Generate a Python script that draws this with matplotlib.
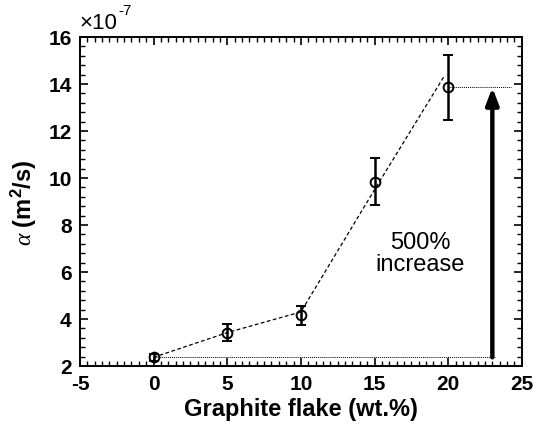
import matplotlib
matplotlib.use("Agg")
import matplotlib.pyplot as plt
from matplotlib.ticker import MultipleLocator

plt.rcParams['font.family'] = ['Liberation Sans', 'DejaVu Sans']
plt.rcParams['axes.unicode_minus'] = False
plt.rcParams['mathtext.fontset'] = 'custom'
plt.rcParams['mathtext.rm'] = 'Liberation Sans'
plt.rcParams['mathtext.it'] = 'Liberation Serif:italic'
plt.rcParams['mathtext.bf'] = 'Liberation Sans:bold'

graphite = [0, 5, 10, 15, 20]
alpha = [2.37, 3.42, 4.15, 9.84, 13.85]          # in units of 1e-7 m^2/s
alpha_err = [0.15, 0.36, 0.42, 1.0, 1.38]
trend_x = [0, 5, 10, 15, 19.7]
trend_y = [2.37, 3.42, 4.3, 9.5, 14.3]
base_line_x = [0, 23.2]
top_line_x = [20, 24.3]
arrow_x = 23.0
annot_text = "500%\nincrease"
xticks = [-5, 0, 5, 10, 15, 20, 25]
yticks = [2, 4, 6, 8, 10, 12, 14, 16]

fig = plt.figure(figsize=(5.33, 4.31), dpi=100)
ax = fig.add_axes([0.150, 0.1485, 0.829, 0.7635])

ax.plot(trend_x, trend_y, ls=(0, (3, 2)), color='black', lw=0.9)
ax.errorbar(graphite, alpha, yerr=alpha_err,
            fmt='o', mfc='none', mec='black', ms=7, mew=1.4, ecolor='black',
            elinewidth=1.8, capsize=3.5, capthick=1.8, zorder=3)

ax.plot(base_line_x, [alpha[0]] * 2, ls=(0, (1, 1)), color='black', lw=0.7)
ax.plot(top_line_x, [alpha[-1]] * 2, ls=(0, (1, 1)), color='black', lw=0.7)
ax.annotate('', xy=(arrow_x, alpha[-1]), xytext=(arrow_x, alpha[0]),
            arrowprops=dict(arrowstyle='-|>,head_width=0.38,head_length=1.0',
                            lw=3.2, color='black', shrinkA=0, shrinkB=0))
ax.text(18.1, 6.8, annot_text, ha='center', va='center', fontsize=17,
        linespacing=1.0)

ax.set_xlim(-5, 25)
ax.set_ylim(2, 16)
ax.set_xticks(xticks)
ax.set_yticks(yticks)
ax.xaxis.set_minor_locator(MultipleLocator(0.5))
ax.yaxis.set_minor_locator(MultipleLocator(0.4))

ax.tick_params(which='both', direction='in', top=True, right=True)
ax.tick_params(which='major', length=6, width=1.2, labelsize=15, pad=6)
ax.tick_params(which='minor', length=3.5, width=1.0)
for lab in ax.get_xticklabels() + ax.get_yticklabels():
    lab.set_fontweight('bold')
for s in ax.spines.values():
    s.set_linewidth(1.4)

# offset (scale) text
ax.text(0.0, 1.012, '\u00d710', transform=ax.transAxes, fontsize=16,
        ha='left', va='bottom')
ax.text(0.087, 1.062, '-7', transform=ax.transAxes, fontsize=11,
        ha='left', va='bottom')

ax.set_xlabel('Graphite flake (wt.%)', fontsize=17, fontweight='bold', labelpad=3)
ax.set_ylabel(r'$\mathit{\alpha}$ $\mathbf{(m^2/s)}$', fontsize=17, labelpad=7)

fig.savefig('out.png', dpi=100)
